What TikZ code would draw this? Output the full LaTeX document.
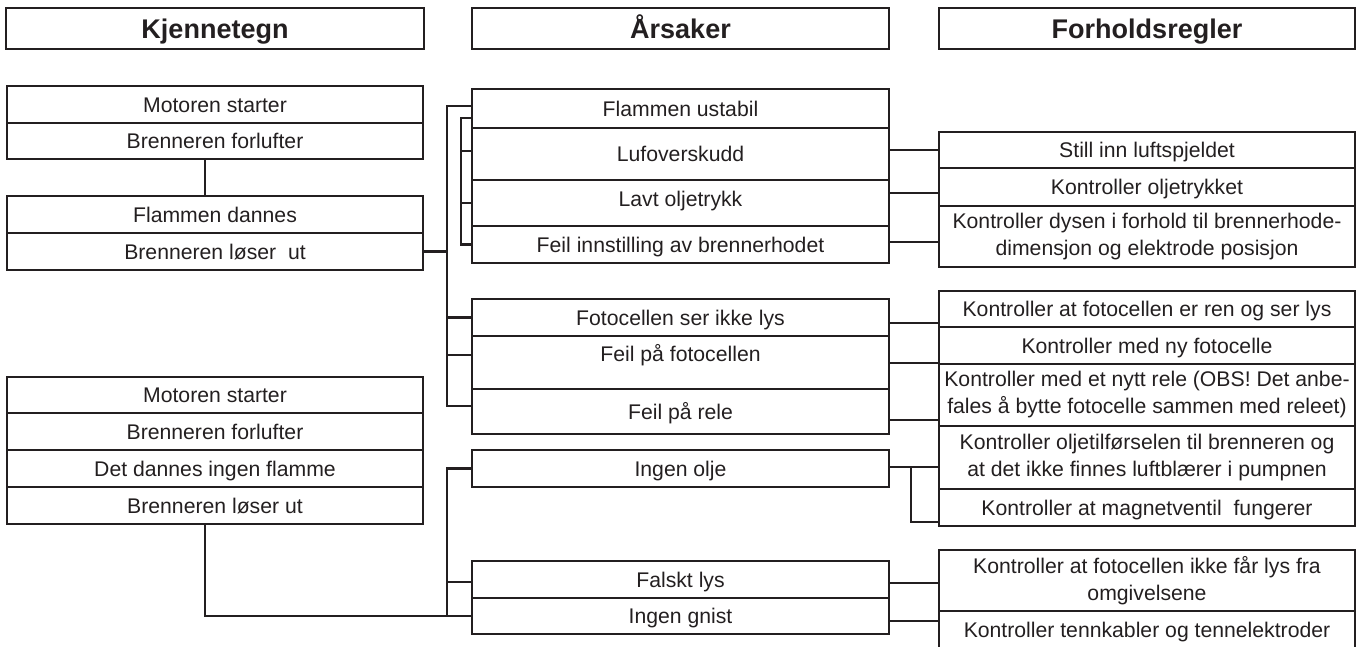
\documentclass[tikz,border=0pt]{standalone}
\usepackage{fontspec}
\setmainfont{Liberation Sans}
\usetikzlibrary{calc}
\definecolor{ink}{HTML}{231F20}
\tikzset{
  frame/.style={draw=ink, line width=2.5pt, inner sep=0pt, outer sep=0pt, text=ink, align=center},
  hdr/.style={frame, minimum height=41pt, font=\fontsize{27}{30}\selectfont\bfseries, text height=19.5pt, text depth=0pt},
  row/.style={frame, font=\fontsize{21.2}{26}\selectfont, text height=15.2pt, text depth=0pt},
  mrow/.style={frame, font=\fontsize{21.2}{27}\selectfont},
  kcol/.style={minimum width=416pt},
  acol/.style={minimum width=417pt},
  fcol/.style={minimum width=416pt},
  wire/.style={draw=ink, line width=2.5pt},
}
\begin{document}
\begin{tikzpicture}[x=1pt,y=-1pt]
\useasboundingbox (0,0) rectangle (1363,646);
% headers
\node[hdr, minimum width=418pt] (hK) at (215,28.5) {Kjennetegn};
\node[hdr, minimum width=417pt] (hA) at (680.5,28.5) {Årsaker};
\node[hdr, minimum width=416pt] (hF) at (1147,28.5) {Forholdsregler};
% left column
\node[row,kcol,minimum height=37pt] (k1) at (215,104.5) {Motoren starter};
\node[row,kcol,minimum height=36pt] (k2) at (215,141) {Brenneren forlufter};
\node[row,kcol,minimum height=37pt] (k3) at (215,214.5) {Flammen dannes};
\node[row,kcol,minimum height=37pt] (k4) at (215,251.5) {Brenneren løser\ \ ut};
\node[row,kcol,minimum height=36pt] (k5) at (215,395) {Motoren starter};
\node[row,kcol,minimum height=37pt] (k6) at (215,431.5) {Brenneren forlufter};
\node[row,kcol,minimum height=37pt] (k7) at (215,468.5) {Det dannes ingen flamme};
\node[row,kcol,minimum height=37pt] (k8) at (215,505.5) {Brenneren løser ut};
% middle column
\node[row,acol,minimum height=39pt] (a1) at (680.5,108.5) {Flammen ustabil};
\node[row,acol,minimum height=52pt] (a2) at (680.5,154) {Lufoverskudd};
\node[row,acol,minimum height=46pt,text depth=8pt] (a3) at (680.5,203) {Lavt oljetrykk};
\node[row,acol,minimum height=37pt] (a4) at (680.5,244.5) {Feil innstilling av brennerhodet};
\node[row,acol,minimum height=37pt] (a5) at (680.5,317.5) {Fotocellen ser ikke lys};
\node[row,acol,minimum height=53pt,text depth=17pt] (a6) at (680.5,362.5) {Feil på fotocellen};
\node[row,acol,minimum height=45pt] (a7) at (680.5,411.5) {Feil på rele};
\node[row,acol,minimum height=37pt] (a8) at (680.5,468.5) {Ingen olje};
\node[row,acol,minimum height=37pt] (a9) at (680.5,579.5) {Falskt lys};
\node[row,acol,minimum height=36pt] (a10) at (680.5,616) {Ingen gnist};
% right column
\node[row,fcol,minimum height=36pt] (f1) at (1147,150) {Still inn luftspjeldet};
\node[row,fcol,minimum height=38pt] (f2) at (1147,187) {Kontroller oljetrykket};
\node[mrow,fcol,minimum height=61pt] (f3) at (1147,236.5) {Kontroller dysen i forhold til brennerhode-\\dimensjon og elektrode posisjon};
\node[row,fcol,minimum height=36pt] (f4) at (1147,309) {Kontroller at fotocellen er ren og ser lys};
\node[row,fcol,minimum height=37pt] (f5) at (1147,345.5) {Kontroller med ny fotocelle};
\node[mrow,fcol,minimum height=62pt] (f6) at (1147,395) {Kontroller med et nytt rele (OBS! Det anbe-\\fales å bytte fotocelle sammen med releet)};
\node[mrow,fcol,minimum height=63pt] (f7) at (1147,457.5) {Kontroller oljetilførselen til brenneren og\\at det ikke finnes luftblærer i pumpnen};
\node[row,fcol,minimum height=37pt] (f8) at (1147,507.5) {Kontroller at magnetventil\ \ fungerer};
\node[mrow,fcol,minimum height=61pt] (f9) at (1147,580.5) {Kontroller at fotocellen ikke får lys fra\\omgivelsene};
\node[row,fcol,minimum height=37pt] (f10) at (1147,629.5) {Kontroller tennkabler og tennelektroder};
% bus coordinates
\coordinate (bA) at (447,0);
\coordinate (bB) at (461,0);
\coordinate (bC) at (911,0);
% shifted connection points
\coordinate (a1w) at ([yshift=2.5pt]a1.west);
\coordinate (a1wb) at ([yshift=-9.5pt]a1.west);
\coordinate (a2w) at ([yshift=3pt]a2.west);
\coordinate (a6w) at ([yshift=7.5pt]a6.west);
\coordinate (a7w) at ([yshift=5.5pt]a7.west);
\coordinate (a9w) at ([yshift=-2.5pt]a9.west);
\coordinate (f2w) at ([yshift=-6pt]f2.west);
\coordinate (a4e) at ([yshift=2.5pt]a4.east);
\coordinate (a5e) at ([yshift=-5.5pt]a5.east);
\coordinate (a6e) at ([yshift=-0.5pt]a6.east);
\coordinate (a7e) at ([yshift=-8.5pt]a7.east);
\coordinate (a8e) at ([yshift=1.5pt]a8.east);
\coordinate (f8w) at ([yshift=-14.5pt]f8.west);
\coordinate (a9e) at ([yshift=-3.5pt]a9.east);
\coordinate (a10e) at ([yshift=-5pt]a10.east);
% left connectors
\draw[wire] ([xshift=-10pt]k2.south) -- ([xshift=-10pt]k3.north);
\draw[wire] (k4.east) -- (bA |- k4.east);
\draw[wire] (a1w) -| (bA |- a7w) -- (a7w);
\draw[wire] (a5.west) -- (bA |- a5.west);
\draw[wire] (a6w) -- (bA |- a6w);
\draw[wire] (a1wb) -| (bB |- a4.west) -- (a4.west);
\draw[wire] (a2w) -- (bB |- a2w);
\draw[wire] (a3.west) -- (bB |- a3.west);
\draw[wire] ([xshift=-10pt]k8.south) |- (a10.west);
\draw[wire] (a8.west) -| (bA |- a10.west);
\draw[wire] (a9w) -- (bA |- a9w);
% right connectors
\draw[wire] (f1.west) -- (f1.west -| a2.east);
\draw[wire] (f2w) -- (f2w -| a3.east);
\draw[wire] (a4e) -- (a4e -| f3.west);
\draw[wire] (a5e) -- (a5e -| f4.west);
\draw[wire] (a6e) -- (a6e -| f6.west);
\draw[wire] (a7e) -- (a7e -| f6.west);
\draw[wire] (a8e) -- (a8e -| f7.west);
\draw[wire] (bC |- a8e) |- (f8w);
\draw[wire] (a9e) -- (a9e -| f9.west);
\draw[wire] (a10e) -- (a10e -| f10.west);
\end{tikzpicture}
\end{document}
